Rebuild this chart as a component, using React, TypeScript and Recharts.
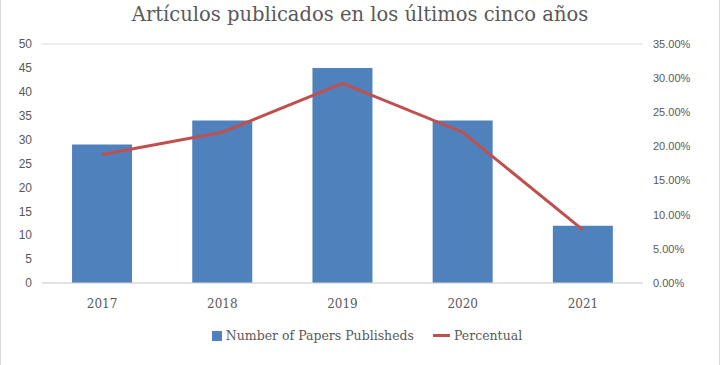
import {
  ComposedChart,
  Bar,
  Line,
  XAxis,
  YAxis,
  CartesianGrid,
  Legend,
} from 'recharts'

const years = ['2017', '2018', '2019', '2020', '2021']
const papers = [29, 34, 45, 34, 12]
const percentual = [18.83, 22.08, 29.22, 22.08, 7.79]
const leftTicks = [0, 5, 10, 15, 20, 25, 30, 35, 40, 45, 50]
const rightTicks = [0, 5, 10, 15, 20, 25, 30, 35]

const BLUE = '#4F81BD'
const RED = '#C0504D'
const GRID = '#D9D9D9'
const TEXT = '#595959'

const data = years.map((year, i) => ({
  year,
  papers: papers[i],
  percent: percentual[i],
}))

const labelFont = '"Liberation Sans", Arial, sans-serif'
const serifFont = '"DejaVu Serif", "Liberation Serif", serif'

function LegendContent() {
  return (
    <div
      style={{
        display: 'flex',
        justifyContent: 'center',
        alignItems: 'center',
        paddingLeft: 14,
        fontFamily: serifFont,
        fontSize: 12.5,
        color: TEXT,
      }}
    >
      <span style={{ display: 'inline-block', width: 10, height: 10, background: BLUE, marginRight: 4 }} />
      <span style={{ fontFamily: serifFont }}>Number of Papers Publisheds</span>
      <span style={{ display: 'inline-block', width: 17, height: 3, background: RED, marginLeft: 19, marginRight: 4 }} />
      <span style={{ fontFamily: serifFont }}>Percentual</span>
    </div>
  )
}

export default function App() {
  return (
    <div
      style={{
        position: 'absolute',
        left: 0,
        top: 0,
        width: 720,
        height: 365,
        background: '#fff',
        boxSizing: 'border-box',
        borderLeft: `1px solid ${GRID}`,
        borderRight: `1px solid ${GRID}`,
      }}
    >
      <div
        style={{
          position: 'absolute',
          left: 0,
          width: 718,
          top: 3,
          textAlign: 'center',
          fontFamily: serifFont,
          fontSize: 19.5,
          color: TEXT,
        }}
      >
        Artículos publicados en los últimos cinco años
      </div>
      <ComposedChart
        width={718}
        height={365}
        data={data}
        margin={{ top: 44, right: 0, left: 0, bottom: 37 }}
        barCategoryGap="25%"
      >
        <CartesianGrid vertical={false} stroke={GRID} />
        <XAxis
          dataKey="year"
          axisLine={{ stroke: GRID }}
          tickLine={false}
          height={30}
          tick={{ fill: TEXT, fontSize: 12, fontFamily: serifFont }}
          tickMargin={10}
        />
        <YAxis
          yAxisId="left"
          domain={[0, 50]}
          ticks={leftTicks}
          width={41}
          axisLine={false}
          tickLine={false}
          tickMargin={4}
          tick={{ fill: TEXT, fontSize: 12, fontFamily: labelFont }}
        />
        <YAxis
          yAxisId="right"
          orientation="right"
          domain={[0, 35]}
          ticks={rightTicks}
          width={76}
          axisLine={false}
          tickLine={false}
          tickMargin={4}
          tickFormatter={(v) => `${Number(v).toFixed(2)}%`}
          tick={{ fill: TEXT, fontSize: 11, fontFamily: labelFont, textAnchor: 'start' }}
        />
        <Bar yAxisId="left" dataKey="papers" fill={BLUE} isAnimationActive={false} />
        <Line
          yAxisId="right"
          dataKey="percent"
          stroke={RED}
          strokeWidth={3}
          dot={false}
          type="linear"
          isAnimationActive={false}
        />
        <Legend content={<LegendContent />} verticalAlign="bottom" wrapperStyle={{ bottom: 22 }} />
      </ComposedChart>
    </div>
  )
}
